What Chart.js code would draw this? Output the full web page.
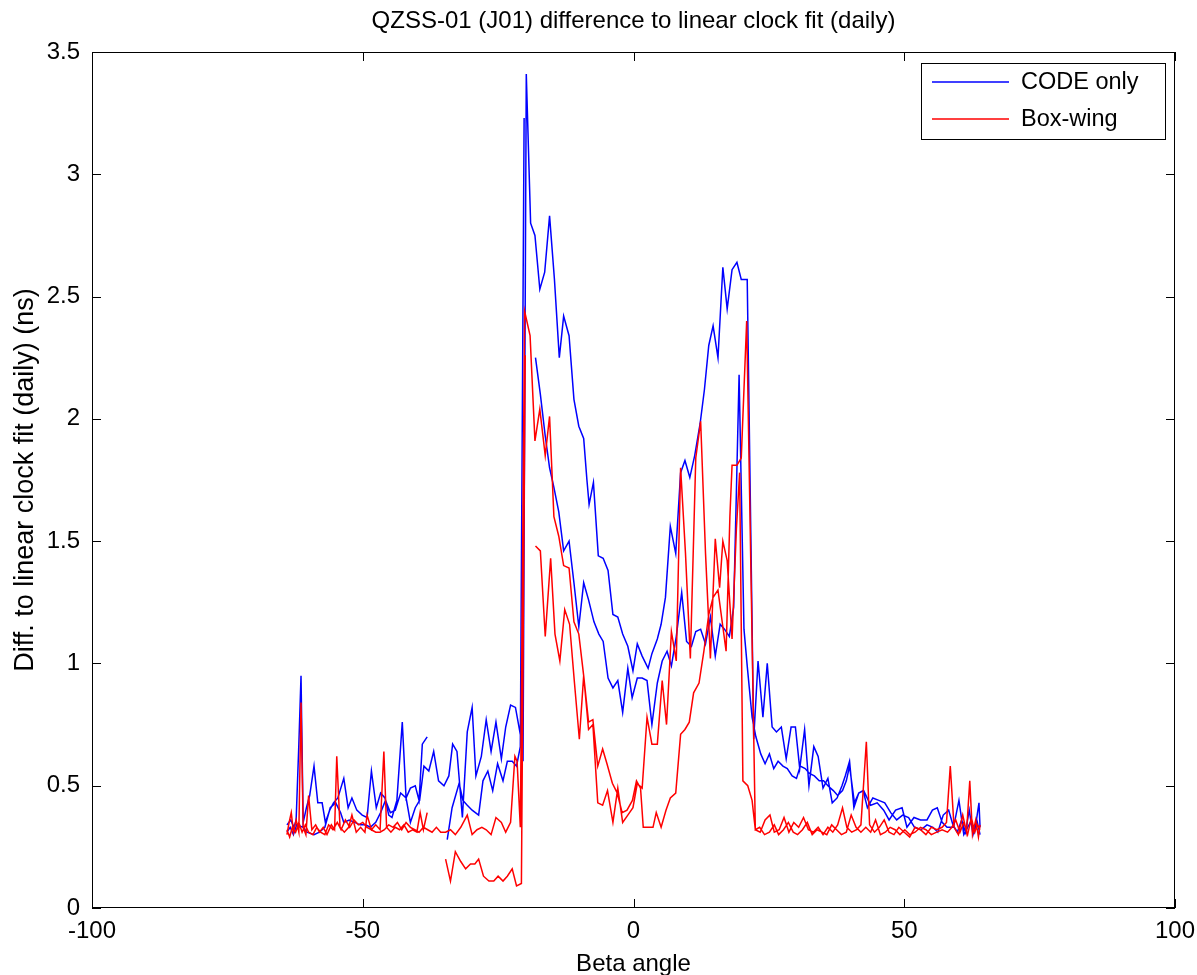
<!DOCTYPE html>
<html lang="en">

<head>
    <meta charset="UTF-8">
    <title>QZSS-01 (J01) difference to linear clock fit (daily)</title>
    <script src="https://cdn.jsdelivr.net/npm/chart.js"></script>
    <style>
        html, body { margin: 0; padding: 0; background: #fff; }
        canvas { display: block; }
    </style>
</head>

<body>
    <canvas id="clockFitChart" width="1197" height="975"></canvas>

    <script>
        // ---- data, two passes through the beta range per series ----
        // null value = data gap

        // CODE only, pass 1
        const codeBetaA = [-64.0, -63.3, -62.7, -62.3, -61.8, -61.4, -61.0, -60.4, -59.8, -59.0, -58.3, -57.5, -56.9, -56.1, -55.4, -54.6,
            -53.5, -52.7, -52.0, -51.1, -50.1, -49.2, -48.4, -47.5, -46.7, -45.9, -45.2, -44.6, -43.7, -42.7, -42.0, -41.2, -40.3, -39.6,
            -39.0, -38.1, -36.5, -34.4, -33.5, -32.2, -31.5, -30.7, -29.8, -28.6, -27.8, -26.9, -26.0, -25.1, -24.1, -23.3, -22.4, -21.6,
            -20.9, -20.2, -19.2, -18.1, -17.2, -16.3, -15.5, -14.7, -13.8, -12.9, -11.9, -11.0, -10.1, -9.2, -8.3, -7.3, -6.4, -5.6,
            -4.7, -3.8, -2.9, -2.0, -1.05, -0.25, 0.7, 1.6, 2.5, 3.4, 4.4, 5.3, 6.2, 7.0, 7.9, 8.9, 9.8, 10.7, 11.5, 12.4, 13.3, 14.2,
            15.1, 16.0, 16.8, 17.7, 18.5, 19.0, 19.5, 20.4, 21.0, 21.9, 22.6, 23.5, 24.3, 25.1, 25.9, 26.7, 27.6, 28.4, 29.3, 30.1, 30.8,
            31.7, 32.5, 33.4, 34.3, 35.1, 35.9, 36.9, 37.7, 38.6, 39.3, 39.9, 40.8, 41.6, 42.5, 43.8, 45.0, 46.2, 47.2, 48.4, 49.6, 50.5,
            51.8, 53.0, 54.2, 55.2, 56.1, 57.0, 57.9, 59.1, 60.1, 61.0, 62.2, 63.0, 63.8, 64.0];
        const codeDiffA = [0.34, 0.36, 0.33, 0.36, 0.67, 0.95, 0.35, 0.41, 0.46, 0.58, 0.43, 0.43, 0.35, 0.40, 0.43, 0.45,
            0.53, 0.41, 0.45, 0.40, 0.38, 0.37, 0.56, 0.41, 0.47, 0.45, 0.38, 0.37, 0.44, 0.76, 0.45, 0.49, 0.50, 0.44,
            0.67, 0.70, null, 0.28, 0.41, 0.51, 0.44, 0.42, 0.40, 0.38, 0.52, 0.56, 0.48, 0.59, 0.52, 0.60, 0.60, 0.58,
            0.66, 3.23, null, 2.25, 2.10, 1.93, 1.80, 1.72, 1.62, 1.46, 1.50, 1.33, 1.15, 1.33, 1.26, 1.17, 1.12, 1.09,
            0.94, 0.90, 0.93, 0.80, 0.98, 0.86, 0.94, 0.94, 0.93, 0.75, 0.92, 1.01, 1.05, 0.99, 1.11, 1.29, 1.09, 1.07, 1.13, 1.14, 1.08, 1.19,
            1.03, 1.16, 1.14, 1.11, 1.23, 1.70, 2.18, 1.14, 0.99, 0.78, 0.70, 0.63, 0.59, 0.63, 0.57, 0.60, 0.58, 0.57, 0.54, 0.53, 0.58,
            0.57, 0.55, 0.54, 0.52, 0.52, 0.50, 0.48, 0.46, 0.48, 0.52, 0.58, 0.43, 0.47, 0.48, 0.42, 0.43, 0.40, 0.36, 0.40, 0.41, 0.33,
            0.37, 0.36, 0.36, 0.40, 0.41, 0.35, 0.33, 0.33, 0.44, 0.30, 0.35, 0.31, 0.43, 0.33];

        // CODE only, pass 2
        const codeBetaB = [-64.0, -63.4, -62.8, -62.2, -61.0, -60.3, -59.0, -58.0, -57.0, -56.0, -55.0, -54.1, -53.5, -52.5, -51.5, -50.5,
            -49.5, -48.6, -47.6, -46.7, -45.8, -44.9, -44.0, -43.0, -42.0, -41.2, -40.3, -39.5, -38.7, -37.8, -36.9, -36.0, -35.0, -34.1,
            -33.4, -32.6, -31.6, -30.7, -29.8, -29.1, -28.1, -27.2, -26.3, -25.4, -24.4, -23.6, -22.7, -21.8, -20.9, -20.4, -19.8, -19.0,
            -18.2, -17.3, -16.4, -15.5, -14.6, -13.7, -12.9, -11.9, -11.0, -10.1, -9.2, -8.6, -8.2, -7.4, -6.5, -5.6, -4.7, -3.8, -2.9,
            -2.0, -1.05, -0.1, 0.7, 1.6, 2.7, 3.4, 4.4, 5.1, 5.9, 6.8, 7.8, 8.7, 9.5, 10.4, 11.3, 12.3, 13.1, 13.9, 14.7, 15.6, 16.5,
            17.3, 18.2, 19.1, 19.9, 21.0, 22.2, 23.0, 23.9, 24.7, 25.6, 26.4, 27.3, 28.2, 29.1, 29.9, 30.7, 31.6, 32.4, 33.3, 34.1, 35.0,
            35.9, 36.7, 37.6, 38.5, 39.1, 39.9, 40.7, 41.6, 42.4, 43.2, 44.2, 45.3, 46.4, 47.5, 48.6, 49.7, 50.8, 51.9, 53.1, 54.2, 55.3,
            56.2, 57.2, 58.2, 59.0, 59.8, 60.6, 61.3, 62.0, 62.7, 63.4, 64.0];
        const codeDiffB = [0.31, 0.33, 0.30, 0.34, 0.33, 0.31, 0.30, 0.31, 0.33, 0.41, 0.43, 0.39, 0.35, 0.36, 0.35, 0.34,
            0.34, 0.33, 0.35, 0.39, 0.44, 0.39, 0.40, 0.47, 0.45, 0.35, 0.41, 0.44, 0.58, 0.56, 0.64, 0.52, 0.50, 0.54,
            0.67, 0.64, 0.37, 0.72, 0.82, 0.54, 0.62, 0.77, 0.64, 0.76, 0.61, 0.74, 0.83, 0.82, 0.71, 0.60, 3.41, 2.80,
            2.75, 2.53, 2.60, 2.83, 2.57, 2.25, 2.42, 2.34, 2.08, 1.97, 1.92, 1.75, 1.65, 1.74, 1.44, 1.43, 1.38, 1.20, 1.19,
            1.12, 1.07, 0.97, 1.08, 1.03, 0.98, 1.04, 1.10, 1.16, 1.27, 1.56, 1.45, 1.78, 1.83, 1.76, 1.85, 1.98, 2.12, 2.30, 2.38, 2.25, 2.62,
            2.45, 2.61, 2.64, 2.57, 2.57, 0.69, 1.01, 0.78, 1.00, 0.74, 0.72, 0.74, 0.61, 0.74, 0.74, 0.57, 0.73, 0.50, 0.66, 0.62, 0.49,
            0.53, 0.43, 0.45, 0.50, 0.54, 0.60, 0.41, 0.47, 0.48, 0.41, 0.45, 0.44, 0.43, 0.39, 0.36, 0.38, 0.37, 0.33, 0.32, 0.34, 0.33,
            0.31, 0.38, 0.40, 0.34, 0.31, 0.36, 0.31, 0.40, 0.30, 0.36, 0.30];

        // Box-wing, pass 1
        const boxBetaA = [-64.0, -63.6, -63.2, -62.8, -62.3, -61.8, -61.4, -61.0, -60.5, -60.0, -59.4, -58.7, -58.0, -57.3, -56.6, -55.8,
            -55.2, -54.8, -54.2, -53.4, -52.6, -52.0, -51.2, -50.4, -49.6, -49.2, -48.4, -47.6, -46.8, -46.1, -45.6, -44.8, -44.0, -43.2,
            -42.4, -41.6, -40.8, -40.0, -39.4, -38.8, -38.1, -36.5, -34.7, -33.8, -32.9, -31.9, -31.0, -30.1, -29.3, -28.6, -27.7, -26.7,
            -25.8, -25.0, -24.1, -23.3, -22.4, -21.6, -20.7, -20.0, -19.0, -18.1, -17.2, -16.3, -15.3, -14.5, -13.6, -12.7, -11.8, -10.9,
            -10.0, -9.2, -8.3, -7.5, -6.6, -5.7, -4.8, -3.8, -2.9, -2.0, -1.05, -0.1, 0.7, 1.6, 2.5, 3.4, 4.4, 5.3, 6.1, 7.0, 7.9, 8.7,
            9.6, 10.5, 11.5, 12.4, 13.3, 14.2, 15.1, 15.9, 16.5, 17.3, 18.2, 19.0, 19.6, 20.2, 21.1, 21.9, 22.5, 23.4, 24.3, 25.2, 26.0,
            26.9, 27.8, 28.7, 29.6, 30.5, 31.4, 32.3, 33.2, 34.1, 35.0, 35.9, 36.8, 37.7, 38.6, 39.4, 40.3, 41.2, 42.0, 43.0, 43.6, 44.5,
            45.4, 46.3, 47.2, 48.1, 49.0, 50.0, 51.0, 52.0, 53.0, 54.0, 55.0, 56.0, 57.0, 57.8, 58.5, 59.2, 60.0, 60.8, 61.5, 62.1, 62.6,
            63.2, 63.7, 64.0];
        const boxDiffA = [0.30, 0.35, 0.39, 0.31, 0.36, 0.31, 0.84, 0.33, 0.30, 0.46, 0.32, 0.34, 0.31, 0.33, 0.30, 0.34,
            0.32, 0.62, 0.33, 0.31, 0.33, 0.38, 0.31, 0.33, 0.31, 0.38, 0.32, 0.34, 0.32, 0.64, 0.33, 0.31, 0.33, 0.32,
            0.34, 0.31, 0.32, 0.31, 0.39, 0.32, 0.39, null, 0.20, 0.11, 0.23, 0.19, 0.16, 0.18, 0.18, 0.20, 0.13, 0.11,
            0.11, 0.13, 0.11, 0.13, 0.16, 0.09, 0.10, 2.26, null, 1.48, 1.46, 1.11, 1.43, 1.12, 1.01, 1.22, 1.16, 0.92,
            0.69, 0.95, 0.73, 0.75, 0.43, 0.42, 0.48, 0.35, 0.49, 0.35, 0.38, 0.41, 0.51, 0.49, 0.78, 0.67, 0.67, 0.93, 0.75, 1.13, 1.01, 1.80,
            1.45, 1.02, 1.84, 1.99, 1.45, 1.02, 1.51, 1.31, 1.50, 1.42, 1.10, 1.55, 1.78, 0.52, 0.50, 0.44, 0.32, 0.31, 0.36, 0.38, 0.31,
            0.32, 0.37, 0.31, 0.35, 0.33, 0.37, 0.32, 0.31, 0.33, 0.30, 0.33, 0.31, 0.34, 0.41, 0.33, 0.31, 0.32, 0.34, 0.68, 0.34, 0.31,
            0.33, 0.36, 0.31, 0.30, 0.33, 0.31, 0.29, 0.33, 0.32, 0.30, 0.33, 0.32, 0.33, 0.35, 0.58, 0.33, 0.30, 0.38, 0.31, 0.52, 0.30,
            0.36, 0.29, 0.34];

        // Box-wing, pass 2
        const boxBetaB = [-64.0, -63.5, -63.0, -62.4, -61.8, -61.2, -60.6, -60.0, -59.2, -58.5, -57.8, -57.0, -56.3, -55.5, -54.7, -54.0,
            -53.2, -52.4, -51.6, -50.8, -50.0, -49.2, -48.4, -47.6, -46.8, -46.0, -45.2, -44.4, -43.6, -42.8, -42.0, -41.2, -40.4, -39.6,
            -38.8, -38.0, -37.2, -36.4, -35.6, -34.7, -33.8, -32.9, -31.9, -30.7, -29.8, -28.9, -28.0, -27.2, -26.3, -25.4, -24.4, -23.6,
            -22.7, -21.9, -21.5, -20.9, -20.1, -19.1, -18.2, -17.3, -16.3, -15.5, -14.7, -13.8, -12.9, -11.9, -11.0, -10.1, -9.2, -8.3,
            -7.5, -6.6, -5.7, -4.9, -3.9, -3.0, -2.1, -1.2, -0.2, 0.55, 1.3, 1.8, 2.8, 3.6, 4.2, 5.1, 6.0, 6.8, 7.8, 8.7, 9.5, 10.3,
            11.1, 12.1, 13.0, 13.9, 14.7, 15.6, 16.5, 17.1, 17.8, 18.2, 19.1, 19.9, 20.9, 22.5, 23.3, 24.2, 25.1, 26.0, 26.8, 27.7, 28.6,
            29.5, 30.3, 31.2, 32.1, 33.0, 33.9, 34.8, 35.7, 36.6, 37.5, 38.4, 39.3, 40.2, 41.1, 42.0, 42.9, 43.8, 44.7, 45.6, 46.5, 47.4,
            48.3, 49.2, 50.1, 51.0, 52.0, 53.0, 54.0, 55.0, 56.0, 57.0, 58.0, 58.8, 59.5, 60.3, 61.0, 61.7, 62.4, 63.0, 63.5, 64.0];
        const boxDiffB = [0.32, 0.29, 0.33, 0.31, 0.35, 0.31, 0.34, 0.31, 0.30, 0.33, 0.31, 0.30, 0.34, 0.32, 0.35, 0.32,
            0.36, 0.33, 0.36, 0.34, 0.35, 0.33, 0.32, 0.31, 0.31, 0.32, 0.34, 0.33, 0.35, 0.32, 0.35, 0.33, 0.32, 0.31,
            0.33, 0.32, 0.31, 0.33, 0.31, 0.31, 0.32, 0.30, 0.33, 0.38, 0.30, 0.32, 0.33, 0.32, 0.30, 0.37, 0.35, 0.31,
            0.35, 0.62, 0.60, 0.33, 2.44, 2.34, 1.91, 2.04, 1.85, 2.01, 1.60, 1.52, 1.40, 1.39, 1.17, 1.12, 0.95, 0.76,
            0.77, 0.58, 0.65, 0.59, 0.51, 0.47, 0.39, 0.40, 0.44, 0.52, 0.49, 0.33, 0.33, 0.33, 0.39, 0.33, 0.40, 0.45, 0.47, 0.71, 0.73, 0.76,
            0.88, 0.92, 1.05, 1.20, 1.27, 1.30, 1.15, 1.05, 1.60, 1.81, 1.81, 1.84, 2.40, 0.32, 0.33, 0.30, 0.31, 0.34, 0.30, 0.32, 0.35,
            0.31, 0.30, 0.32, 0.35, 0.30, 0.32, 0.31, 0.30, 0.34, 0.32, 0.30, 0.31, 0.38, 0.33, 0.31, 0.33, 0.31, 0.36, 0.30, 0.31, 0.33,
            0.32, 0.30, 0.32, 0.30, 0.31, 0.33, 0.32, 0.30, 0.31, 0.32, 0.31, 0.33, 0.36, 0.31, 0.35, 0.30, 0.37, 0.31, 0.34, 0.32];

        const xTicks = [-100, -50, 0, 50, 100];
        const yTicks = [0, 0.5, 1, 1.5, 2, 2.5, 3, 3.5];

        const FONT = '"Liberation Sans", Arial, Helvetica, sans-serif';

        // join passes into one dataset, with a null point so the two passes are not connected
        function passes(betaA, diffA, betaB, diffB) {
            const pts = betaA.map((b, i) => ({ x: b, y: diffA[i] }));
            pts.push({ x: 0, y: null });
            betaB.forEach((b, i) => pts.push({ x: b, y: diffB[i] }));
            return pts;
        }

        // frame, inward tick marks, centred title and boxed legend (octave look)
        const octaveLook = {
            id: 'octaveLook',
            afterDraw(chart) {
                const { ctx, chartArea: a, scales: { x, y } } = chart;
                ctx.save();
                ctx.strokeStyle = '#000';
                ctx.lineWidth = 1;
                ctx.strokeRect(a.left + 0.5, a.top + 0.5, a.right - a.left - 1, a.bottom - a.top - 1);

                const len = 9;
                ctx.beginPath();
                xTicks.forEach(v => {
                    const px = Math.round(x.getPixelForValue(v)) + 0.5;
                    ctx.moveTo(px, a.bottom); ctx.lineTo(px, a.bottom - len);
                    ctx.moveTo(px, a.top); ctx.lineTo(px, a.top + len);
                });
                yTicks.forEach(v => {
                    const py = Math.round(y.getPixelForValue(v)) + 0.5;
                    ctx.moveTo(a.left, py); ctx.lineTo(a.left + len, py);
                    ctx.moveTo(a.right, py); ctx.lineTo(a.right - len, py);
                });
                ctx.stroke();

                // title
                ctx.fillStyle = '#000';
                ctx.font = '24px ' + FONT;
                ctx.textAlign = 'center';
                ctx.textBaseline = 'middle';
                ctx.fillText('QZSS-01 (J01) difference to linear clock fit (daily)', (a.left + a.right) / 2, 21);

                // legend
                const bx = 921, by = 63, bw = 244, bh = 76;
                ctx.fillStyle = '#fff';
                ctx.fillRect(bx, by, bw, bh);
                ctx.strokeRect(bx + 0.5, by + 0.5, bw, bh);
                ctx.font = '23.5px ' + FONT;
                ctx.textAlign = 'left';
                const entries = [chart.data.datasets[1], chart.data.datasets[0]];
                entries.forEach((ds, i) => {
                    const ly = 82 + i * 37;
                    ctx.strokeStyle = ds.borderColor;
                    ctx.lineWidth = 1.5;
                    ctx.beginPath();
                    ctx.moveTo(932, ly); ctx.lineTo(1009, ly);
                    ctx.stroke();
                    ctx.fillStyle = '#000';
                    ctx.fillText(ds.label, 1021, ly + 1);
                });
                ctx.restore();
            }
        };

        document.addEventListener('DOMContentLoaded', function () {
            const ctx = document.getElementById('clockFitChart').getContext('2d');
            new Chart(ctx, {
                type: 'line',
                data: {
                    datasets: [{
                        // red is drawn on top of blue
                        label: 'Box-wing',
                        data: passes(boxBetaA, boxDiffA, boxBetaB, boxDiffB),
                        borderColor: '#ff0000',
                        borderWidth: 1.5,
                        pointRadius: 0,
                        fill: false,
                        tension: 0,
                        order: 0
                    }, {
                        label: 'CODE only',
                        data: passes(codeBetaA, codeDiffA, codeBetaB, codeDiffB),
                        borderColor: '#0000ff',
                        borderWidth: 1.5,
                        pointRadius: 0,
                        fill: false,
                        tension: 0,
                        order: 1
                    }]
                },
                options: {
                    responsive: false,
                    animation: false,
                    events: [],
                    layout: { padding: { left: 0, right: 22, top: 52, bottom: 0 } },
                    plugins: {
                        legend: { display: false },
                        tooltip: { enabled: false },
                        title: { display: false }
                    },
                    scales: {
                        x: {
                            type: 'linear',
                            min: -100,
                            max: 100,
                            afterBuildTicks: s => { s.ticks = xTicks.map(v => ({ value: v })); },
                            // fixed axis height, and don't let the end labels push the plot inwards
                            afterFit: s => { s.height = 67; s.paddingLeft = 0; s.paddingRight = 0; },
                            grid: { display: false, drawTicks: false },
                            border: { display: false },
                            ticks: { padding: 9, color: '#000', font: { family: FONT, size: 24 }, callback: v => String(v) },
                            title: {
                                display: true,
                                text: 'Beta angle',
                                color: '#000',
                                font: { family: FONT, size: 24 },
                                padding: { top: 0, bottom: -4 }
                            }
                        },
                        y: {
                            min: 0,
                            max: 3.5,
                            afterBuildTicks: s => { s.ticks = yTicks.map(v => ({ value: v })); },
                            afterFit: s => { s.width = 92; s.paddingTop = 0; s.paddingBottom = 0; },
                            grid: { display: false, drawTicks: false },
                            border: { display: false },
                            ticks: { padding: 12, color: '#000', font: { family: FONT, size: 24 }, callback: v => String(v) },
                            title: {
                                display: true,
                                text: 'Diff. to linear clock fit (daily) (ns)',
                                color: '#000',
                                font: { family: FONT, size: 27 },
                                padding: { top: 9, bottom: 0 }
                            }
                        }
                    }
                },
                plugins: [octaveLook]
            });
        });
    </script>
</body>

</html>
